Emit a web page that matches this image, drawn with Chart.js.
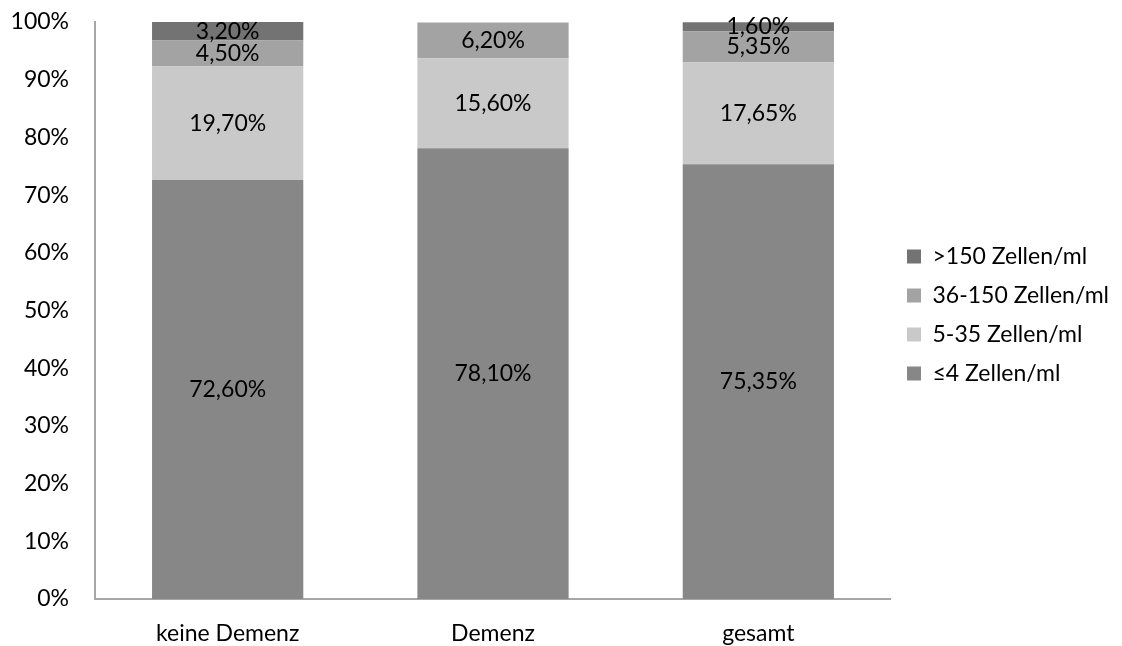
<!DOCTYPE html>
<html>
<head>
<meta charset="utf-8">
<script src="https://cdn.jsdelivr.net/npm/chart.js@4.5.0/dist/chart.umd.min.js"></script>
<style>
  html, body { margin: 0; padding: 0; background: #fff; }
  #wrap { width: 1122px; height: 646px; position: relative; }
</style>
</head>
<body>
<div id="wrap"><canvas id="chart"></canvas></div>
<script>
// === DATEN ===
const kategorien = ['keine Demenz', 'Demenz', 'gesamt'];
const bis4 = [72.60, 78.10, 75.35];
const von5bis35 = [19.70, 15.60, 17.65];
const von36bis150 = [4.50, 6.20, 5.35];
const ueber150 = [3.20, 0, 1.60];
const yTicks = [0, 10, 20, 30, 40, 50, 60, 70, 80, 90, 100];

const schrift = 'Lato, "Open Sans", sans-serif';
const groesse = 23;
const formatProzent = v => v.toFixed(2).replace('.', ',') + '%';

// Werte mittig in jedes Segment schreiben
const wertLabels = {
  id: 'wertLabels',
  afterDatasetsDraw(chart) {
    const { ctx } = chart;
    ctx.save();
    ctx.font = groesse + 'px ' + schrift;
    ctx.fillStyle = '#000';
    ctx.textAlign = 'center';
    ctx.textBaseline = 'middle';
    chart.data.datasets.forEach((ds, i) => {
      chart.getDatasetMeta(i).data.forEach((bar, j) => {
        const v = ds.data[j];
        if (!v) return;
        const mitte = (bar.y + bar.base) / 2;
        ctx.fillText(formatProzent(v), bar.x, mitte);
      });
    });
    ctx.restore();
  }
};

// Legende etwas nach oben schieben
const legendeHoch = {
  id: 'legendeHoch',
  afterLayout(chart) {
    chart.legend.top -= 19;
    chart.legend.bottom -= 19;
  }
};

const ctx = document.getElementById('chart');
new Chart(ctx, {
  type: 'bar',
  data: {
    labels: kategorien,
    datasets: [
      { label: '≤4 Zellen/ml', data: bis4, backgroundColor: '#878787' },
      { label: '5-35 Zellen/ml', data: von5bis35, backgroundColor: '#c9c9c9' },
      { label: '36-150 Zellen/ml', data: von36bis150, backgroundColor: '#a3a3a3' },
      { label: '>150 Zellen/ml', data: ueber150, backgroundColor: '#737373' }
    ]
  },
  options: {
    responsive: true,
    maintainAspectRatio: false,
    animation: false,
    datasets: { bar: { categoryPercentage: 1, barPercentage: 0.57 } },
    layout: { padding: { top: 22, bottom: 0, left: 0, right: 3 } },
    plugins: {
      legend: {
        position: 'right',
        reverse: true,
        labels: {
          boxWidth: 14,
          boxHeight: 14,
          padding: 16,
          color: '#000',
          font: { family: schrift, size: groesse }
        }
      },
      tooltip: { enabled: false }
    },
    scales: {
      x: {
        stacked: true,
        afterFit(scale) {
          scale.height = 47;
          scale.paddingLeft = 0;
          scale.paddingRight = 0;
        },
        grid: { display: false },
        border: { color: '#a6a6a6', width: 2 },
        ticks: { color: '#000', font: { family: schrift, size: groesse, lineHeight: 1.1 }, padding: 14 }
      },
      y: {
        stacked: true,
        min: 0,
        max: 100,
        afterFit(scale) {
          scale.width = 95;
          scale.paddingTop = 0;
          scale.paddingBottom = 0;
        },
        afterBuildTicks(scale) { scale.ticks = yTicks.map(v => ({ value: v })); },
        grid: { display: false },
        border: { color: '#a6a6a6', width: 2 },
        ticks: {
          color: '#000',
          font: { family: schrift, size: groesse, lineHeight: 1 },
          padding: 18,
          callback: v => v + '%'
        }
      }
    }
  },
  plugins: [wertLabels, legendeHoch]
});
</script>
</body>
</html>
